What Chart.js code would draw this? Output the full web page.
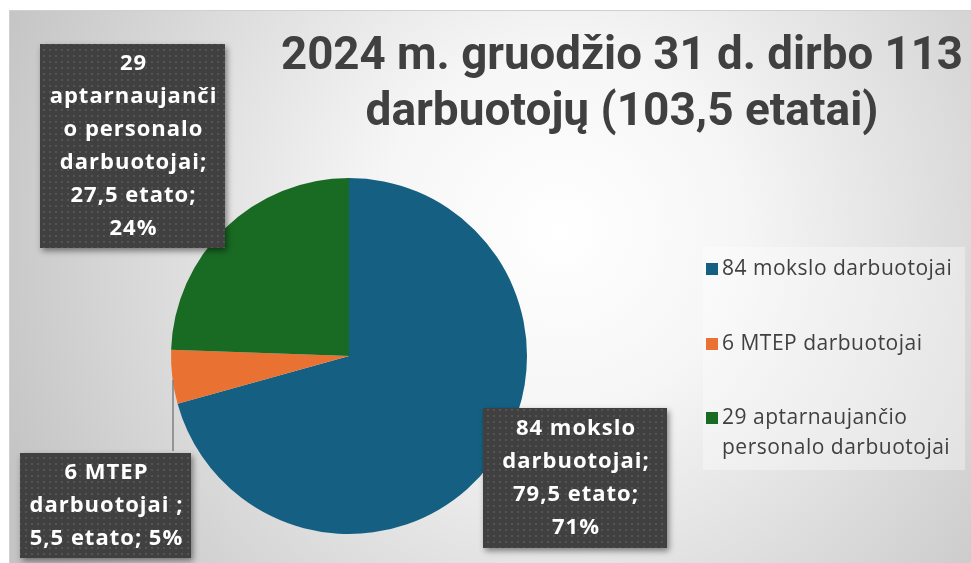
<!DOCTYPE html>
<html>
<head>
<meta charset="utf-8">
<script src="https://cdn.jsdelivr.net/npm/chart.js@4"></script>
<style>
  body { margin: 0; background: #fff; }
  canvas { display: block; }
</style>
</head>
<body>
<canvas id="myChart" width="971" height="563"></canvas>
<script>
// data
const categories = ['84 mokslo darbuotojai', '6 MTEP darbuotojai', '29 aptarnaujančio personalo darbuotojai'];
const etatai = [79.5, 5.5, 27.5];
const colors = ['#156082', '#E97132', '#196B24'];
const titleLines = ['2024 m. gruodžio 31 d. dirbo 113', 'darbuotojų (103,5 etatai)'];
// data label text, wrapped as in the original
const labelLines = [
    ['84 mokslo', 'darbuotojai;', '79,5 etato;'],
    ['6 MTEP', 'darbuotojai ;', '5,5 etato;'],
    ['29', 'aptarnaujanči', 'o personalo', 'darbuotojai;', '27,5 etato;']
];
const legendLines = [['84 mokslo darbuotojai'], ['6 MTEP darbuotojai'], ['29 aptarnaujančio', 'personalo darbuotojai']];

const total = etatai.reduce((a, b) => a + b, 0);
const pct = etatai.map(v => Math.round(v / total * 100) + '%');

// label boxes placement (x, y, w, h), percent appended on last line or new line
const boxes = [
    { x: 483, y: 408, w: 184, h: 140, pctNewLine: true },
    { x: 20, y: 453, w: 171, h: 105, pctNewLine: false, leader: [173, 380, 173, 451] },
    { x: 40, y: 44, w: 185, h: 204, pctNewLine: true }
];

// dot pattern for label boxes
const patCanvas = document.createElement('canvas');
patCanvas.width = 6; patCanvas.height = 6;
const pctx = patCanvas.getContext('2d');
pctx.fillStyle = '#404040';
pctx.fillRect(0, 0, 6, 6);
pctx.fillStyle = '#545454';
pctx.fillRect(1, 1, 2, 2);

const backgroundPlugin = {
    id: 'bg',
    beforeDraw(chart) {
        const ctx = chart.ctx;
        ctx.save();
        ctx.fillStyle = '#ffffff';
        ctx.fillRect(0, 0, chart.width, chart.height);
        const g = ctx.createRadialGradient(560, 230, 0, 560, 230, 600);
        g.addColorStop(0, '#ffffff');
        g.addColorStop(0.3, '#f6f6f6');
        g.addColorStop(1, '#c4c4c4');
        ctx.fillStyle = g;
        ctx.fillRect(9, 10, chart.width - 9, chart.height - 10);
        ctx.strokeStyle = '#d0d0d0';
        ctx.lineWidth = 1;
        ctx.strokeRect(9.5, 10.5, chart.width, chart.height);
        ctx.restore();
    }
};

const decorPlugin = {
    id: 'decor',
    afterDraw(chart) {
        const ctx = chart.ctx;
        ctx.save();
        // title
        ctx.fillStyle = '#404040';
        ctx.textAlign = 'center';
        ctx.textBaseline = 'alphabetic';
        ctx.font = 'bold 46px Roboto';
        ctx.fillText(titleLines[0], 622, 69, 682);
        ctx.fillText(titleLines[1], 622, 125, 524);

        // legend
        ctx.fillStyle = 'rgba(255,255,255,0.35)';
        ctx.fillRect(703, 247, 262, 223);
        ctx.font = '21px "Open Sans"';
        ctx.letterSpacing = '0.5px';
        ctx.textAlign = 'left';
        ctx.textBaseline = 'middle';
        const legendY = [269, 344, 418];
        chart.data.labels.forEach((lab, i) => {
            ctx.fillStyle = chart.data.datasets[0].backgroundColor[i];
            ctx.fillRect(706, legendY[i] - 6, 12, 12);
            ctx.fillStyle = '#404040';
            legendLines[i].forEach((t, j) => ctx.fillText(t, 722, legendY[i] + j * 30));
        });

        // data labels
        ctx.letterSpacing = '0px';
        boxes.forEach((b, i) => {
            if (b.leader) {
                ctx.strokeStyle = '#7f7f7f';
                ctx.lineWidth = 1.5;
                ctx.beginPath();
                ctx.moveTo(b.leader[0], b.leader[1]);
                ctx.lineTo(b.leader[2], b.leader[3]);
                ctx.stroke();
            }
            ctx.save();
            ctx.shadowColor = 'rgba(0,0,0,0.45)';
            ctx.shadowBlur = 6;
            ctx.shadowOffsetX = 2;
            ctx.shadowOffsetY = 3;
            ctx.fillStyle = '#404040';
            ctx.fillRect(b.x, b.y, b.w, b.h);
            ctx.restore();
            ctx.fillStyle = ctx.createPattern(patCanvas, 'repeat');
            ctx.fillRect(b.x, b.y, b.w, b.h);

            const lines = labelLines[i].slice();
            if (b.pctNewLine) lines.push(pct[i]);
            else lines[lines.length - 1] += ' ' + pct[i];
            ctx.fillStyle = '#ffffff';
            ctx.font = 'bold 22px "Open Sans"';
            ctx.letterSpacing = '1px';
            ctx.textAlign = 'center';
            ctx.textBaseline = 'middle';
            const lh = 33;
            const cy = b.y + b.h / 2 - (lines.length - 1) * lh / 2;
            lines.forEach((t, j) => ctx.fillText(t, b.x + b.w / 2 + 1, cy + j * lh));
            ctx.letterSpacing = '0px';
        });
        ctx.restore();
    }
};

const config = {
    type: 'pie',
    data: {
        labels: categories,
        datasets: [{
            data: etatai,
            backgroundColor: colors,
            borderWidth: 0
        }]
    },
    options: {
        responsive: false,
        animation: false,
        layout: {
            padding: { left: 171, right: 444, top: 178, bottom: 29 }
        },
        plugins: {
            legend: { display: false },
            title: { display: false },
            tooltip: { enabled: false }
        }
    },
    plugins: [backgroundPlugin, decorPlugin]
};

const myChart = new Chart(document.getElementById('myChart'), config);
</script>
</body>
</html>
